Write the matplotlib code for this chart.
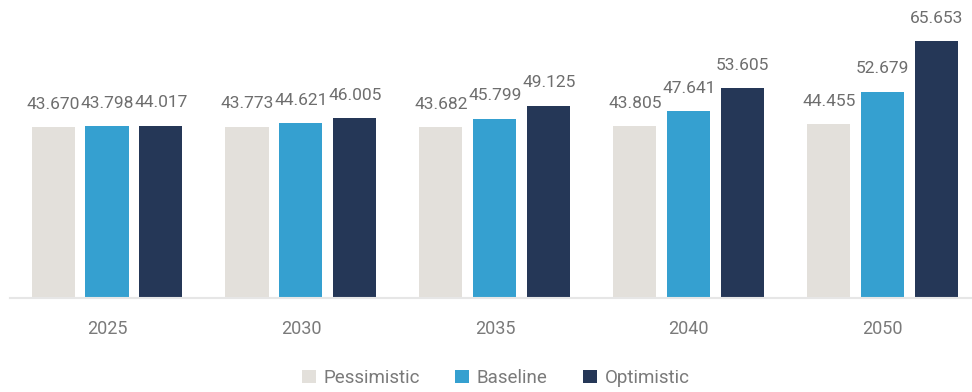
import matplotlib
matplotlib.use('Agg')
import matplotlib.pyplot as plt
import numpy as np

years = ['2025', '2030', '2035', '2040', '2050']
pessimistic = [43.670, 43.773, 43.682, 43.805, 44.455]
baseline = [43.798, 44.621, 45.799, 47.641, 52.679]
optimistic = [44.017, 46.005, 49.125, 53.605, 65.653]

series = [
    ('Pessimistic', pessimistic, '#E3E0DB'),
    ('Baseline', baseline, '#35A0D0'),
    ('Optimistic', optimistic, '#253757'),
]

plt.rcParams['font.family'] = ['Roboto', 'DejaVu Sans']
text_grey = '#6E6E6E'

fig = plt.figure(figsize=(9.72, 3.92), dpi=100)
ax = fig.add_axes([10 / 972, 94 / 392, 962 / 972, 298 / 392])

x = np.arange(len(years))
width = 0.222
step = 0.278

for i, (name, vals, color) in enumerate(series):
    pos = x + (i - 1) * step
    bars = ax.bar(pos, vals, width, color=color, label=name, zorder=2)
    for b, v in zip(bars, vals):
        ax.annotate(f'{v:.3f}', (b.get_x() + b.get_width() / 2, v),
                    xytext=(0, 11), textcoords='offset points',
                    ha='center', va='bottom', fontsize=12.5, color=text_grey)

ax.set_xlim(-0.5, 4.46)
ax.set_ylim(0, 76.1)
ax.set_yticks([])
ax.set_xticks(x)
ax.set_xticklabels(years, fontsize=13, color='#7A7A7A')
ax.tick_params(axis='x', length=0, pad=16)
for s in ['top', 'right', 'left']:
    ax.spines[s].set_visible(False)
ax.spines['bottom'].set_color('#E6E6E6')
ax.spines['bottom'].set_linewidth(1.5)

leg = fig.legend(loc='center', bbox_to_anchor=(0.51, 14 / 392), ncol=3, frameon=False,
                 fontsize=13.5, handlelength=0.75, handleheight=0.75, handletextpad=0.4,
                 columnspacing=1.9)
for t in leg.get_texts():
    t.set_color('#7A7A7A')

fig.savefig('out.png', dpi=100)
